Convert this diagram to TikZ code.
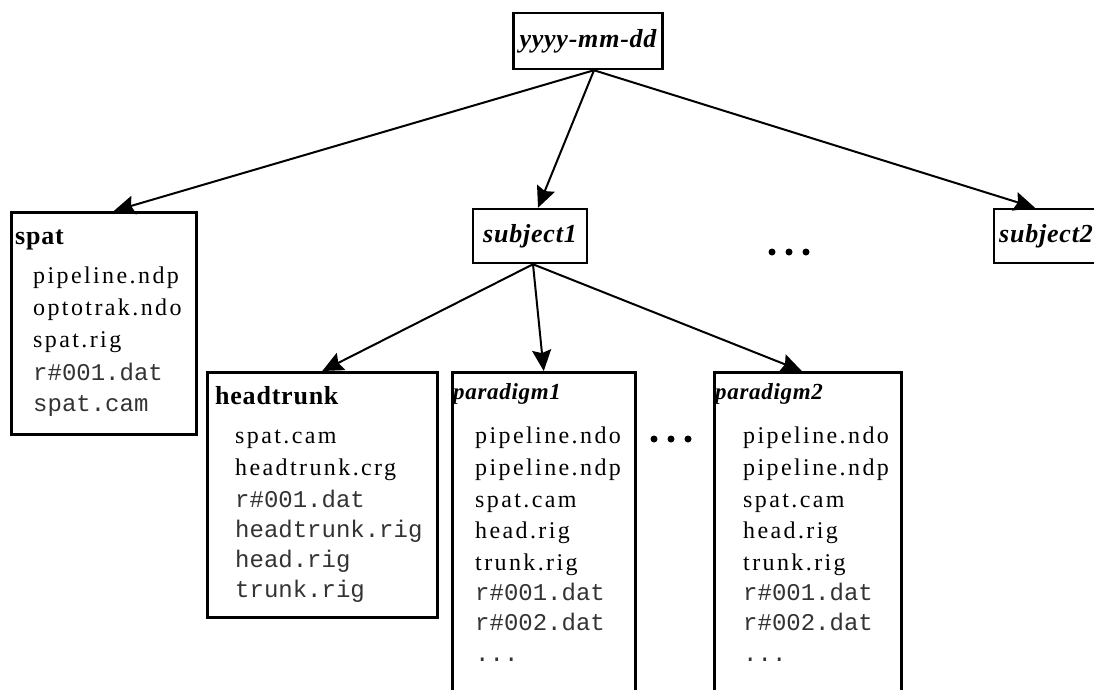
\documentclass[tikz,border=0pt]{standalone}
\usepackage{fontspec}
\usepackage{tikz}
\usetikzlibrary{arrows.meta}
\newfontfamily\itemfont{Liberation Serif}[LetterSpace=10]
\newfontfamily\codefont{Liberation Mono}
\newfontfamily\titlefont{Liberation Serif}[LetterSpace=3]
\newcommand\moredots{...}
\tikzstyle{dirbox}    = [draw, line width=2.5pt, inner sep=0pt]
\tikzstyle{arrow}     = [line width=2pt, -{Stealth[length=21pt, width=19pt, inset=3pt]}]

\begin{document}
\begin{tikzpicture}[x=1pt, y=-1pt,
		boxtitle/.style={inner sep=0pt, font=\fontsize{26}{30}\titlefont\bfseries},
		fileserif/.style={inner sep=0pt, anchor=base west, font=\fontsize{24}{28}\itemfont},
		filemono/.style={inner sep=0pt, anchor=base west, text=black!80, font=\fontsize{24}{28}\codefont},
		ellipsisdot/.style={circle, fill, inner sep=0pt, minimum size=7pt}
	]
	\path[use as bounding box, fill=white] (0,0) rectangle (1094,689);
	\clip (0,0) rectangle (1094,689);
	% top level
	\node[dirbox, boxtitle, minimum width=149pt, minimum height=56pt] (root) at (588,41) {\itshape yyyy-mm-dd};
	\node[dirbox, anchor=north west, minimum width=185pt, minimum height=222pt] (spat) at (10,211) {};
	\node[dirbox, boxtitle, minimum width=114pt, minimum height=54pt] (subject1) at (530,236) {\itshape subject1};
	\node[dirbox, boxtitle, minimum width=104pt, minimum height=54pt] (subject2) at (1046,236) {\itshape subject2};
	\foreach \x [count=\i] in {772,789,806}
		\node[ellipsisdot] (sdot\i) at (\x,252) {};
	% below subject1
	\node[dirbox, anchor=north west, minimum width=230pt, minimum height=245pt] (headtrunk) at (206,371) {};
	\node[dirbox, anchor=north west, minimum width=183pt, minimum height=340pt] (paradigm1) at (451,371) {};
	\node[dirbox, anchor=north west, minimum width=187pt, minimum height=340pt] (paradigm2) at (713,371) {};
	\foreach \x [count=\i] in {654,671,688}
		\node[ellipsisdot] (pdot\i) at (\x,439) {};
	% box contents
	\node[boxtitle, anchor=base west] (spat-title) at (15,244) {spat};
	\foreach \y/\f/\t [count=\i] in {283/fileserif/pipeline.ndp, 315/fileserif/optotrak.ndo,
			347/fileserif/spat.rig, 380/filemono/r\#001.dat, 411/filemono/spat.cam}
		\node[\f] (spat-\i) at (33,\y) {\t};
	\node[boxtitle, anchor=base west] (headtrunk-title) at (215,404) {headtrunk};
	\foreach \y/\f/\t [count=\i] in {443/fileserif/spat.cam, 475/fileserif/headtrunk.crg,
			507/filemono/r\#001.dat, 537/filemono/headtrunk.rig, 567/filemono/head.rig, 597/filemono/trunk.rig}
		\node[\f] (headtrunk-\i) at (235,\y) {\t};
	\foreach \p/\tx/\ix in {1/453/475, 2/715/743} {
		\node[boxtitle, anchor=base west, font=\fontsize{23}{27}\titlefont\bfseries] (paradigm\p-title) at (\tx,399) {\itshape paradigm\p};
		\foreach \y/\f/\t [count=\i] in {443/fileserif/pipeline.ndo, 475/fileserif/pipeline.ndp,
				507/fileserif/spat.cam, 538/fileserif/head.rig, 570/fileserif/trunk.rig,
				600/filemono/r\#001.dat, 630/filemono/r\#002.dat, 661/filemono/\moredots}
			\node[\f] (paradigm\p-\i) at (\ix,\y) {\t};
	}
	% connectors
	\draw[arrow] ([xshift=6pt]root.south) -- ([xshift=10pt]spat.north);
	\draw[arrow] ([xshift=6pt]root.south) -- ([xshift=8pt]subject1.north);
	\draw[arrow] ([xshift=6pt]root.south) -- ([xshift=-11pt]subject2.north);
	\draw[arrow] ([xshift=3pt]subject1.south) -- (headtrunk.north);
	\draw[arrow] ([xshift=3pt]subject1.south) -- (paradigm1.north);
	\draw[arrow] ([xshift=3pt]subject1.south) -- ([xshift=-6pt]paradigm2.north);
\end{tikzpicture}
\end{document}
